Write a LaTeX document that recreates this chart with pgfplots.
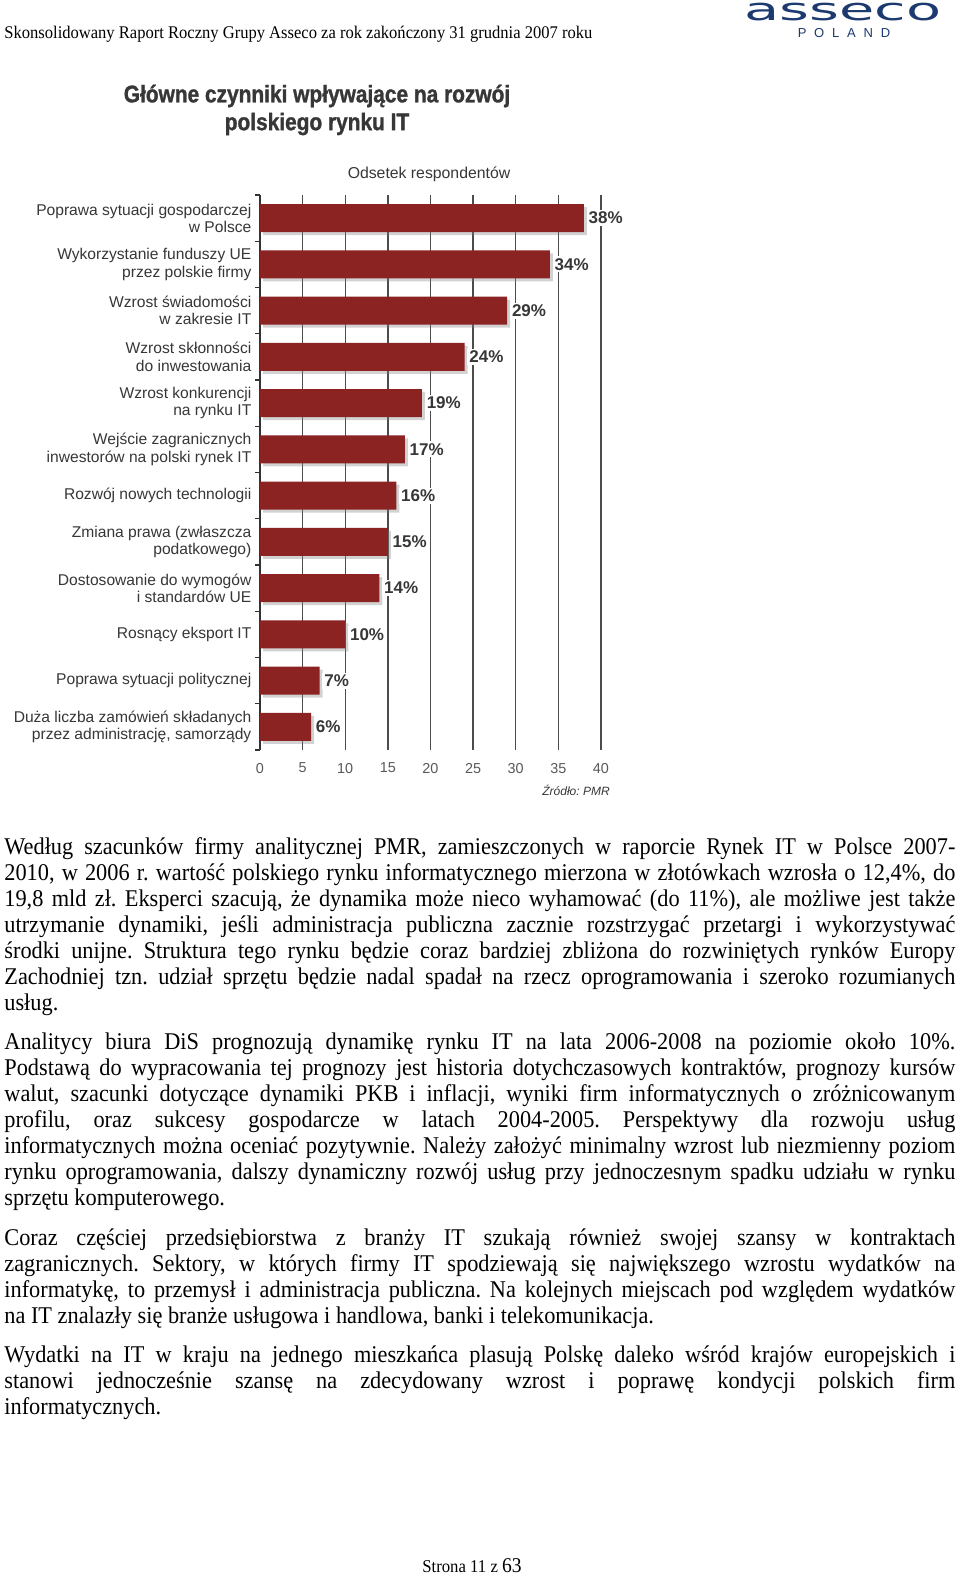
\documentclass[border=0pt]{standalone}
\usepackage{fontspec}
\setmainfont{Liberation Serif}[FakeStretch=0.93]
\newfontfamily\chartfont{Liberation Sans}
\newfontfamily\titlefont[FakeStretch=0.87, BoldFeatures={FakeBold=1.2}]{Liberation Sans}
\newfontfamily\logofont[FakeStretch=1.85]{DejaVu Sans}
\usepackage{pgfplots}
\pgfplotsset{compat=1.18}
\usetikzlibrary{shadows}
\frenchspacing

\definecolor{barred}{RGB}{139,35,35}
\definecolor{txt}{RGB}{55,55,55}
\definecolor{navy}{RGB}{28,58,112}

\newcommand\bodyfont{\fontsize{12}{13}\selectfont}
% justified line / last line of a paragraph
\newcommand\jl[2]{\node[anchor=base west, inner sep=0] at (4,#1) {\bodyfont\hbox to 475.5pt{#2}};}
\newcommand\rl[2]{\node[anchor=base west, inner sep=0] at (4,#1) {\bodyfont #2};}

\begin{document}
\begin{tikzpicture}[x=0.5pt,y=-0.5pt]
\fill[white] (0,0) rectangle (960,1574);
\useasboundingbox (0,0) rectangle (960,1574);

% header
\node[anchor=base west, inner sep=0, font=\fontsize{8.9}{10}\selectfont] at (4,39)
  {Skonsolidowany Raport Roczny Grupy Asseco za rok zakończony 31 grudnia 2007 roku};
\node[inner sep=0, text=navy, font=\logofont\fontsize{15.5}{17}\selectfont] at (843,12) {asseco};
\node[inner sep=0, text=navy, font=\chartfont\fontsize{6.5}{7}\selectfont] at (844,33)
  {P\kern3.9pt O\kern3.9pt L\kern3.9pt A\kern3.9pt N\kern3.9pt D};

% chart title
\node[font=\titlefont\bfseries\fontsize{12}{14}\selectfont, text=txt] at (317,96) {Główne czynniki wpływające na rozwój};
\node[font=\titlefont\bfseries\fontsize{12}{14}\selectfont, text=txt] at (317,124) {polskiego rynku IT};
\node[font=\chartfont\fontsize{7.9}{9}\selectfont, text=txt] at (429,174) {Odsetek respondentów};

\coordinate (ll) at (260,750);
\begin{axis}[
    at={(ll)}, anchor=south west,
    scale only axis, width=170.5pt, height=277.5pt,
    xbar, bar width=14pt,
    xmin=0, xmax=40, ymin=0.5, ymax=12.5,
    y dir=reverse,
    axis lines*=left,
    x axis line style={draw=none},
    y axis line style={line width=0.75pt, black!80},
    xtick={0,5,...,40},
    ytick={1,...,12},
    yticklabels={
      {Poprawa sytuacji gospodarczej\\w Polsce},
      {Wykorzystanie funduszy UE\\przez polskie firmy},
      {Wzrost świadomości\\w zakresie IT},
      {Wzrost skłonności\\do inwestowania},
      {Wzrost konkurencji\\na rynku IT},
      {Wejście zagranicznych\\inwestorów na polski rynek IT},
      {Rozwój nowych technologii},
      {Zmiana prawa (zwłaszcza\\podatkowego)},
      {Dostosowanie do wymogów\\i standardów UE},
      {Rosnący eksport IT},
      {Poprawa sytuacji politycznej},
      {Duża liczba zamówień składanych\\przez administrację, samorządy}},
    minor ytick={0.5,1.5,...,12.5},
    major tick length=0pt, minor tick length=2.5pt,
    tick align=outside,
    minor tick style={black!80, line width=0.6pt},
    xmajorgrids,
    major grid style={black!70, line width=0.7pt},
    /pgf/number format/assume math mode=true,
    yticklabel style={font=\chartfont\fontsize{7.8}{8.6}\selectfont, text=txt, align=right, xshift=-0.8pt},
    xticklabel style={font=\chartfont\fontsize{7.2}{8}\selectfont, text=black!65, yshift=-3pt},
  ]
\addplot[fill=barred, draw=none,
    drop shadow={shadow xshift=1.5pt, shadow yshift=-1.5pt, opacity=0.35},
    point meta=x,
    nodes near coords={\pgfmathprintnumber{\pgfplotspointmeta}\%},
    nodes near coords style={font=\chartfont\bfseries\fontsize{8.5}{9}\selectfont, text=txt,
      fill=white, inner sep=1pt, anchor=west, xshift=1.2pt}]
  coordinates {(38,1) (34,2) (29,3) (24,4) (19,5) (17,6) (16,7) (15,8) (14,9) (10,10) (7,11) (6,12)};
\end{axis}

\node[font=\chartfont\itshape\fontsize{6}{7}\selectfont, text=txt] at (576,790) {Źródło: PMR};

% body text
\jl{854}{Według szacunków firmy analitycznej PMR, zamieszczonych w raporcie Rynek IT w Polsce 2007-}
\jl{880}{2010, w 2006 r. wartość polskiego rynku informatycznego mierzona w złotówkach wzrosła o 12,4\%, do}
\jl{906}{19,8 mld zł. Eksperci szacują, że dynamika może nieco wyhamować (do 11\%), ale możliwe jest także}
\jl{932}{utrzymanie dynamiki, jeśli administracja publiczna zacznie rozstrzygać przetargi i wykorzystywać}
\jl{958}{środki unijne. Struktura tego rynku będzie coraz bardziej zbliżona do rozwiniętych rynków Europy}
\jl{984}{Zachodniej tzn. udział sprzętu będzie nadal spadał na rzecz oprogramowania i szeroko rozumianych}
\rl{1010}{usług.}

\jl{1049}{Analitycy biura DiS prognozują dynamikę rynku IT na lata 2006-2008 na poziomie około 10\%.}
\jl{1075}{Podstawą do wypracowania tej prognozy jest historia dotychczasowych kontraktów, prognozy kursów}
\jl{1101}{walut, szacunki dotyczące dynamiki PKB i inflacji, wyniki firm informatycznych o zróżnicowanym}
\jl{1127}{profilu, oraz sukcesy gospodarcze w latach 2004-2005. Perspektywy dla rozwoju usług}
\jl{1153}{informatycznych można oceniać pozytywnie. Należy założyć minimalny wzrost lub niezmienny poziom}
\jl{1179}{rynku oprogramowania, dalszy dynamiczny rozwój usług przy jednoczesnym spadku udziału w rynku}
\rl{1205}{sprzętu komputerowego.}

\jl{1245}{Coraz częściej przedsiębiorstwa z branży IT szukają również swojej szansy w kontraktach}
\jl{1271}{zagranicznych. Sektory, w których firmy IT spodziewają się największego wzrostu wydatków na}
\jl{1297}{informatykę, to przemysł i administracja publiczna. Na kolejnych miejscach pod względem wydatków}
\rl{1323}{na IT znalazły się branże usługowa i handlowa, banki i telekomunikacja.}

\jl{1362}{Wydatki na IT w kraju na jednego mieszkańca plasują Polskę daleko wśród krajów europejskich i}
\jl{1388}{stanowi jednocześnie szansę na zdecydowany wzrost i poprawę kondycji polskich firm}
\rl{1414}{informatycznych.}

% footer
\node[anchor=base, inner sep=0, font=\fontsize{9}{10}\selectfont] at (472,1572) {Strona 11 z {\fontsize{10.5}{11}\selectfont 63}};
\end{tikzpicture}
\end{document}
